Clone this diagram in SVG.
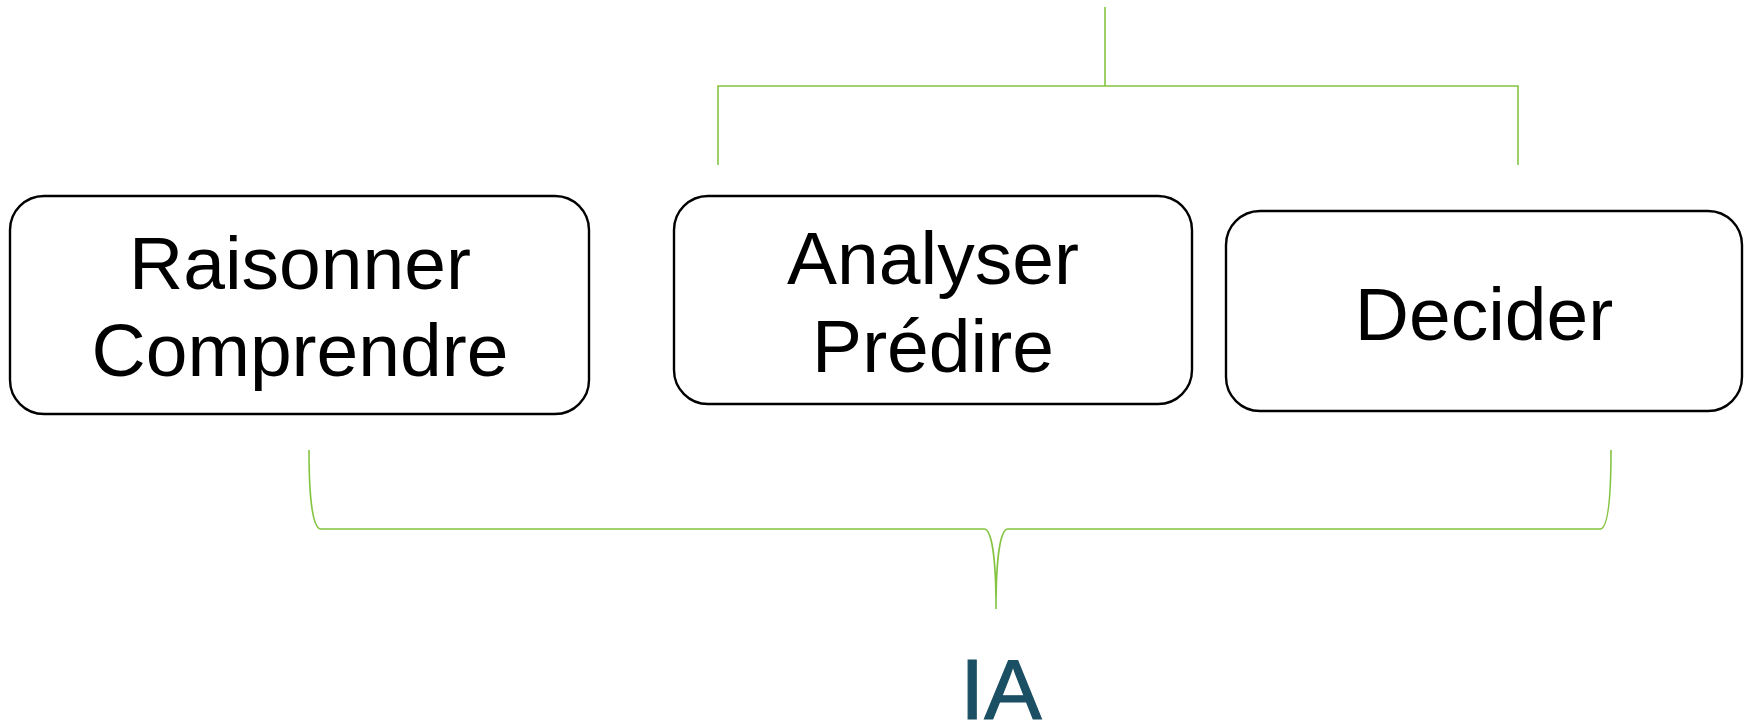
<svg xmlns="http://www.w3.org/2000/svg" width="1748" height="726" viewBox="0 0 1748 726">
<style>
.box{fill:#fff;stroke:#000;stroke-width:2.4}
.lbl{font-family:"Liberation Sans",Arial,sans-serif;font-size:75px;fill:#000;text-anchor:middle}
.con{fill:none;stroke:#84C441;stroke-width:1.6}
</style>
<rect width="1748" height="726" fill="#fff"/>
<g id="connectors">
<path class="con" d="M1105,7 V86 M718,165 V86 H1518 V165"/>
<path class="con" d="M309,450 C309,500 313,529 321,529 L984,529 C992,529 996,560 996,609 C996,560 1000,529 1008,529 L1600,529 C1608,529 1611,500 1611,450"/>
</g>
<g id="node-raisonner">
<rect class="box" x="10" y="196" width="579" height="218" rx="34"/>
<text class="lbl" x="300" y="289">Raisonner</text>
<text class="lbl" x="300" y="376">Comprendre</text>
</g>
<g id="node-analyser">
<rect class="box" x="674" y="196" width="518" height="208" rx="34"/>
<text class="lbl" x="933" y="284">Analyser</text>
<text class="lbl" x="933" y="372">Prédire</text>
</g>
<g id="node-decider">
<rect class="box" x="1226" y="211" width="516" height="200" rx="34"/>
<text class="lbl" x="1484" y="340">Decider</text>
</g>
<g id="node-ia">
<text x="1001" y="719" font-family="Liberation Sans,Arial,sans-serif" font-size="86" fill="#1B4F63" stroke="#1B4F63" stroke-width="1.2" text-anchor="middle">IA</text>
</g>
</svg>
